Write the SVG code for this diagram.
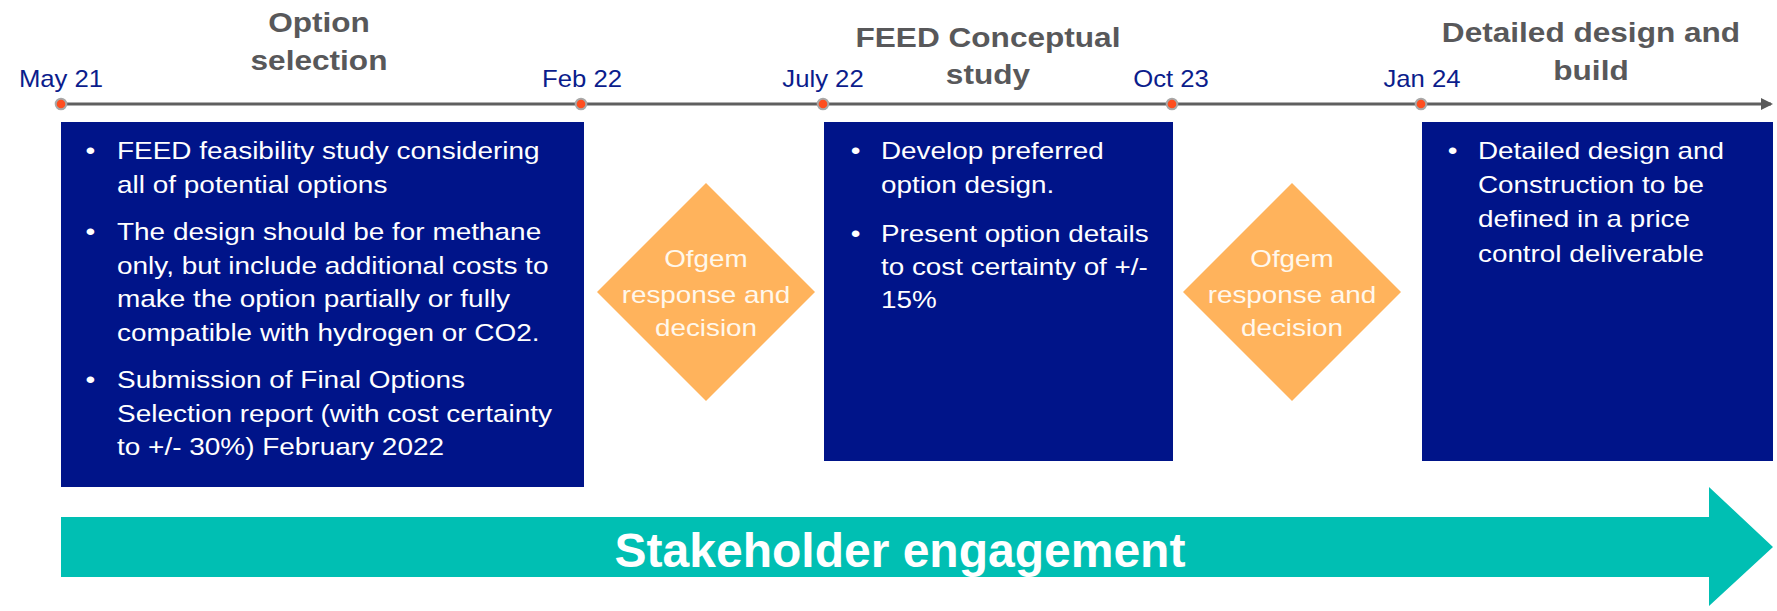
<svg xmlns="http://www.w3.org/2000/svg" width="1777" height="611" viewBox="0 0 1777 611">
<style>
.date{font-family:"Liberation Sans",Arial,sans-serif;font-size:24px;fill:#0b1d8c;text-anchor:middle}
.phase{font-family:"Liberation Sans",Arial,sans-serif;font-size:27px;font-weight:bold;fill:#58585a;text-anchor:middle}
.box{fill:#001489}
.bt{font-family:"Liberation Sans",Arial,sans-serif;font-size:24px;fill:#ffffff}
.dia{fill:#ffb35c}
.dt{font-family:"Liberation Sans",Arial,sans-serif;font-size:24px;fill:#fff8ec;text-anchor:middle}
.dot{fill:#ff4e1f;stroke:#a8a8a8;stroke-width:2}
</style>
<defs>
<marker id="ah" markerWidth="12" markerHeight="12" refX="10" refY="6" orient="auto" markerUnits="userSpaceOnUse"><path d="M0,0 L12,6 L0,12 Z" fill="#595959"/></marker>
</defs>
<g id="connectors">
<line x1="62" y1="104" x2="1771" y2="104" stroke="#5f5f5f" stroke-width="3" marker-end="url(#ah)"/>
</g>
<g id="timeline-dates">
<text class="date" x="61" y="87" transform="matrix(1.07,0,0,1,-4.27,0)">May 21</text>
<text class="date" x="582" y="87" transform="matrix(1.07,0,0,1,-40.74,0)">Feb 22</text>
<text class="date" x="823" y="87" transform="matrix(1.07,0,0,1,-57.61,0)">July 22</text>
<text class="date" x="1171" y="87" transform="matrix(1.07,0,0,1,-81.97,0)">Oct 23</text>
<text class="date" x="1422" y="87" transform="matrix(1.07,0,0,1,-99.54,0)">Jan 24</text>
<circle class="dot" cx="61" cy="104" r="5.3"/>
<circle class="dot" cx="581" cy="104" r="5.3"/>
<circle class="dot" cx="823" cy="104" r="5.3"/>
<circle class="dot" cx="1172" cy="104" r="5.3"/>
<circle class="dot" cx="1421" cy="104" r="5.3"/>
</g>
<g id="phase-titles">
<g transform="matrix(1.17,0,0,1,-54.23,0)">
<text class="phase" x="319" y="32">Option</text>
<text class="phase" x="319" y="70">selection</text>
</g>
<g transform="matrix(1.17,0,0,1,-167.96,0)">
<text class="phase" x="988" y="47">FEED Conceptual</text>
<text class="phase" x="988" y="84">study</text>
</g>
<g transform="matrix(1.17,0,0,1,-270.47,0)">
<text class="phase" x="1591" y="42">Detailed design and</text>
<text class="phase" x="1591" y="80">build</text>
</g>
</g>
<g id="box1">
<rect class="box" x="61" y="122" width="523" height="365"/>
<g transform="matrix(1.165,0,0,1,-19.305,0)">
<text class="bt" x="90" y="159">•</text>
<text class="bt" x="117" y="159">FEED feasibility study considering</text>
<text class="bt" x="117" y="193">all of potential options</text>
<text class="bt" x="90" y="240">•</text>
<text class="bt" x="117" y="240">The design should be for methane</text>
<text class="bt" x="117" y="274">only, but include additional costs to</text>
<text class="bt" x="117" y="307">make the option partially or fully</text>
<text class="bt" x="117" y="341">compatible with hydrogen or CO2.</text>
<text class="bt" x="90" y="388">•</text>
<text class="bt" x="117" y="388">Submission of Final Options</text>
<text class="bt" x="117" y="422">Selection report (with cost certainty</text>
<text class="bt" x="117" y="455">to +/- 30%) February 2022</text>
</g>
</g>
<g id="decision1">
<polygon class="dia" points="706,183 815,292 706,401 597,292"/>
<g transform="matrix(1.16,0,0,1,-112.96,0)">
<text class="dt" x="706" y="267">Ofgem</text>
<text class="dt" x="706" y="303">response and</text>
<text class="dt" x="706" y="336">decision</text>
</g>
</g>
<g id="box2">
<rect class="box" x="824" y="122" width="349" height="339"/>
<g transform="matrix(1.16,0,0,1,-140.96,0)">
<text class="bt" x="855" y="159">•</text>
<text class="bt" x="881" y="159">Develop preferred</text>
<text class="bt" x="881" y="193">option design.</text>
<text class="bt" x="855" y="242">•</text>
<text class="bt" x="881" y="242">Present option details</text>
<text class="bt" x="881" y="275">to cost certainty of +/-</text>
<text class="bt" x="881" y="308">15%</text>
</g>
</g>
<g id="decision2">
<polygon class="dia" points="1292,183 1401,292 1292,401 1183,292"/>
<g transform="matrix(1.16,0,0,1,-206.72,0)">
<text class="dt" x="1292" y="267">Ofgem</text>
<text class="dt" x="1292" y="303">response and</text>
<text class="dt" x="1292" y="336">decision</text>
</g>
</g>
<g id="box3">
<rect class="box" x="1422" y="122" width="351" height="339"/>
<g transform="matrix(1.16,0,0,1,-236.48,0)">
<text class="bt" x="1452" y="159">•</text>
<text class="bt" x="1478" y="159">Detailed design and</text>
<text class="bt" x="1478" y="193">Construction to be</text>
<text class="bt" x="1478" y="227">defined in a price</text>
<text class="bt" x="1478" y="262">control deliverable</text>
</g>
</g>
<g id="stakeholder">
<polygon fill="#00bfb3" points="61,517 1709,517 1709,487 1773,547 1709,606 1709,577 61,577"/>
<text x="900" y="567" font-family="'Liberation Sans',Arial,sans-serif" font-size="48" font-weight="bold" fill="#ffffff" text-anchor="middle">Stakeholder engagement</text>
</g>
</svg>
